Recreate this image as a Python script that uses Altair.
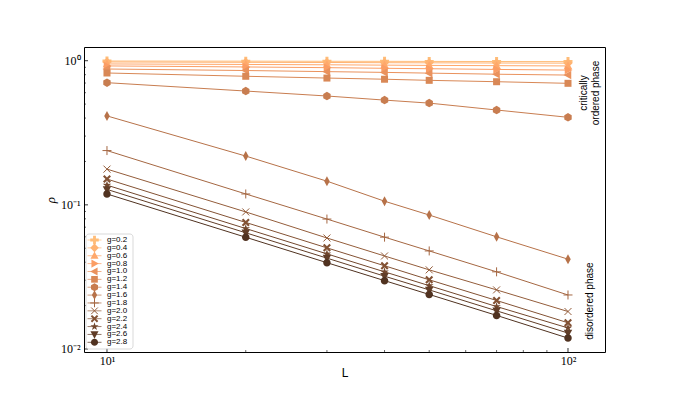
import altair as alt
import pandas as pd

# ---------------- data ----------------
L_values = [10, 20, 30, 40, 50, 70, 100]
g_values = [0.2, 0.4, 0.6, 0.8, 1.0, 1.2, 1.4, 1.6, 1.8, 2.0, 2.2, 2.4, 2.6, 2.8]

rho_g02 = [0.995, 0.993, 0.991, 0.990, 0.989, 0.987, 0.986]
rho_g04 = [0.980, 0.975, 0.972, 0.969, 0.967, 0.964, 0.962]
rho_g06 = [0.950, 0.942, 0.937, 0.932, 0.928, 0.924, 0.920]
rho_g08 = [0.920, 0.905, 0.895, 0.886, 0.880, 0.870, 0.861]
rho_g10 = [0.876, 0.855, 0.840, 0.830, 0.820, 0.806, 0.795]
rho_g12 = [0.822, 0.780, 0.758, 0.744, 0.731, 0.715, 0.697]
rho_g14 = [0.704, 0.616, 0.569, 0.533, 0.508, 0.455, 0.405]
rho_g16 = [0.414, 0.218, 0.146, 0.106, 0.085, 0.060, 0.042]
rho_g18 = [0.238, 0.119, 0.0797, 0.0597, 0.0479, 0.0343, 0.0237]
rho_g20 = [0.177, 0.0893, 0.0589, 0.0442, 0.0354, 0.0257, 0.0182]
rho_g22 = [0.151, 0.0755, 0.0503, 0.0378, 0.0302, 0.0217, 0.0152]
rho_g24 = [0.137, 0.0685, 0.0457, 0.0343, 0.0275, 0.0197, 0.0140]
rho_g26 = [0.128, 0.0640, 0.0427, 0.0320, 0.0257, 0.0184, 0.0129]
rho_g28 = [0.119, 0.0596, 0.0397, 0.0298, 0.0239, 0.0171, 0.0119]

series = [rho_g02, rho_g04, rho_g06, rho_g08, rho_g10, rho_g12, rho_g14,
          rho_g16, rho_g18, rho_g20, rho_g22, rho_g24, rho_g26, rho_g28]

x_major_ticks = [10, 100]
x_minor_ticks = [20, 30, 40, 50, 60, 70, 80, 90]
y_major_ticks = [0.01, 0.1, 1.0]
y_minor_ticks = [0.02, 0.03, 0.04, 0.05, 0.06, 0.07, 0.08, 0.09,
                 0.2, 0.3, 0.4, 0.5, 0.6, 0.7, 0.8, 0.9]

# ---------------- styles ----------------
colors = ["#FFBD79", "#FFB372", "#FFA86B", "#FB9D64", "#EA925D", "#D98856",
          "#C87D50", "#B77249", "#A56742", "#945D3B", "#835234", "#72472D",
          "#613D27", "#503220"]

marker_paths = [
    "M-0.9,-0.3L-0.3,-0.3L-0.3,-0.9L0.3,-0.9L0.3,-0.3L0.9,-0.3L0.9,0.3L0.3,0.3L0.3,0.9L-0.3,0.9L-0.3,0.3L-0.9,0.3Z",
    "M0,-0.9L0.9,0L0,0.9L-0.9,0Z",
    "M0,-0.9L0.85,0.65L-0.85,0.65Z",
    "M0.9,0L-0.65,0.85L-0.65,-0.85Z",
    "M-0.9,0L0.65,-0.85L0.65,0.85Z",
    "M-0.7,-0.7L0.7,-0.7L0.7,0.7L-0.7,0.7Z",
    "M0,-0.85L0.74,-0.425L0.74,0.425L0,0.85L-0.74,0.425L-0.74,-0.425Z",
    "M0,-1L0.55,0L0,1L-0.55,0Z",
    "M-0.9,0L0.9,0M0,-0.9L0,0.9",
    "M-0.7,-0.7L0.7,0.7M-0.7,0.7L0.7,-0.7",
    "M-0.8,-0.5L-0.5,-0.8L0,-0.3L0.5,-0.8L0.8,-0.5L0.3,0L0.8,0.5L0.5,0.8L0,0.3L-0.5,0.8L-0.8,0.5L-0.3,0Z",
    "M0,-0.9L0.2,-0.28L0.86,-0.28L0.33,0.11L0.53,0.73L0,0.34L-0.53,0.73L-0.33,0.11L-0.86,-0.28L-0.2,-0.28Z",
    "M0,0.9L0.85,-0.65L-0.85,-0.65Z",
    "M-0.75,0A0.75,0.75,0,1,1,0.75,0A0.75,0.75,0,1,1,-0.75,0Z",
]
open_markers = [False] * 8 + [True, True] + [False] * 4

labels = [f"g={g}" for g in g_values]
open_labels = [lab for lab, o in zip(labels, open_markers) if o]

rows = []
for g, lab, vals in zip(g_values, labels, series):
    for L, r in zip(L_values, vals):
        rows.append({"g": g, "label": lab, "L": L, "rho": r})
df = pd.DataFrame(rows)

W, H = 521, 305

x_scale = alt.Scale(type="log", domain=[8.916, 120.3], nice=False)
y_scale = alt.Scale(type="log", domain=[0.00953, 1.245], nice=False)
color_scale = alt.Scale(domain=labels, range=colors)
shape_scale = alt.Scale(domain=labels, range=marker_paths)

x_axis = alt.Axis(values=x_major_ticks, ticks=False, domain=False, grid=False,
                  labelExpr="datum.value < 50 ? '10¹' : '10²'",
                  labelFont="Liberation Serif", labelFontSize=12, labelPadding=3,
                  labelColor="black",
                  title="L", titleFont="Liberation Sans", titleFontSize=12,
                  titleFontWeight="normal", titlePadding=1, titleColor="black")
y_axis = alt.Axis(values=y_major_ticks, ticks=False, domain=False, grid=False,
                  orient="left",
                  labelExpr="datum.value > 0.5 ? '10⁰' : (datum.value > 0.05 ? '10⁻¹' : '10⁻²')",
                  labelFont="Liberation Serif", labelFontSize=12, labelPadding=4,
                  labelColor="black",
                  title="ρ", titleFont="Liberation Serif", titleFontSize=13,
                  titleFontStyle="italic", titleFontWeight="normal",
                  titlePadding=3, titleColor="black")

X = alt.X("L:Q", scale=x_scale, axis=x_axis)
Y = alt.Y("rho:Q", scale=y_scale, axis=y_axis)

base = alt.Chart(df)

lines = base.mark_line(strokeWidth=1).encode(
    x=X, y=Y,
    color=alt.Color("label:N", scale=color_scale, legend=None),
    order=alt.Order("L:Q"),
)

point_layers = []
for lab, col, path, is_open in zip(labels, colors, marker_paths, open_markers):
    point_layers.append(
        base.transform_filter(alt.datum.label == lab).mark_point(
            shape=path, filled=not is_open, size=100, color=col,
            strokeWidth=1, opacity=1,
        ).encode(x=X, y=Y)
    )

xt_major = alt.Chart(pd.DataFrame({"L": x_major_ticks})).mark_rule(color="black", strokeWidth=0.8).encode(
    x=X, y=alt.value(H), y2=alt.value(H - 4))
xt_minor = alt.Chart(pd.DataFrame({"L": x_minor_ticks})).mark_rule(color="black", strokeWidth=0.6).encode(
    x=X, y=alt.value(H), y2=alt.value(H - 2))
yt_major = alt.Chart(pd.DataFrame({"rho": y_major_ticks})).mark_rule(color="black", strokeWidth=0.8).encode(
    y=Y, x=alt.value(0), x2=alt.value(4))
yt_minor = alt.Chart(pd.DataFrame({"rho": y_minor_ticks})).mark_rule(color="black", strokeWidth=0.6).encode(
    y=Y, x=alt.value(0), x2=alt.value(2))

ann_df = pd.DataFrame({"a": [0]})
txt_crit = alt.Chart(ann_df).mark_text(
    text="critically\nordered phase", lineBreak="\n", angle=270, align="center",
    baseline="middle", font="Liberation Sans", fontSize=10, color="black",
).encode(x=alt.datum(108.3), y=alt.datum(0.597))
txt_dis = alt.Chart(ann_df).mark_text(
    text="disordered phase", angle=270, align="center",
    baseline="middle", font="Liberation Sans", fontSize=10, color="black",
).encode(x=alt.datum(111.5), y=alt.datum(0.0215))

main = alt.layer(
    lines, *point_layers,
    xt_major, xt_minor, yt_major, yt_minor, txt_crit, txt_dis,
)

# ---------------- hand-drawn legend (lower left, inside the frame) ----------------
legend_df = pd.DataFrame({"label": labels})
LY = alt.Y("label:N", axis=None,
           scale=alt.Scale(type="point", domain=labels, range=[193, 295.3], padding=0))

leg_box = alt.Chart(ann_df).mark_rect(
    fill="white", stroke="#cccccc", strokeWidth=0.8, cornerRadius=3, opacity=0.9,
).encode(x=alt.value(2), x2=alt.value(49), y=alt.value(187), y2=alt.value(302))

leg_lines = alt.Chart(legend_df).mark_tick(thickness=1, orient="horizontal", size=14).encode(
    x=alt.value(10.5), y=LY,
    color=alt.Color("label:N", scale=color_scale, legend=None),
)

leg_filled = alt.Chart(legend_df).transform_filter(
    ~alt.FieldOneOfPredicate(field="label", oneOf=open_labels)
).mark_point(filled=True, size=90, opacity=1, strokeWidth=1).encode(
    x=alt.value(10.5), y=LY,
    color=alt.Color("label:N", scale=color_scale, legend=None),
    shape=alt.Shape("label:N", scale=shape_scale, legend=None),
)
leg_open = alt.Chart(legend_df).transform_filter(
    alt.FieldOneOfPredicate(field="label", oneOf=open_labels)
).mark_point(filled=False, size=90, opacity=1, strokeWidth=1).encode(
    x=alt.value(10.5), y=LY,
    color=alt.Color("label:N", scale=color_scale, legend=None),
    shape=alt.Shape("label:N", scale=shape_scale, legend=None),
)
leg_text = alt.Chart(legend_df).mark_text(
    align="left", baseline="middle", font="Liberation Sans", fontSize=8, color="black",
).encode(x=alt.value(23), y=LY, text="label:N")

legend = alt.layer(leg_box, leg_lines, leg_filled, leg_open, leg_text)

chart = alt.layer(main, legend).resolve_scale(
    y="independent"
).properties(
    width=W, height=H,
    padding={"left": 76, "top": 39, "right": 48, "bottom": 30},
    autosize=alt.AutoSizeParams(type="none"),
    background="white",
).configure_view(
    stroke="black", strokeWidth=1,
)

chart.save("out.html", embed_options={"renderer": "svg", "actions": False})
